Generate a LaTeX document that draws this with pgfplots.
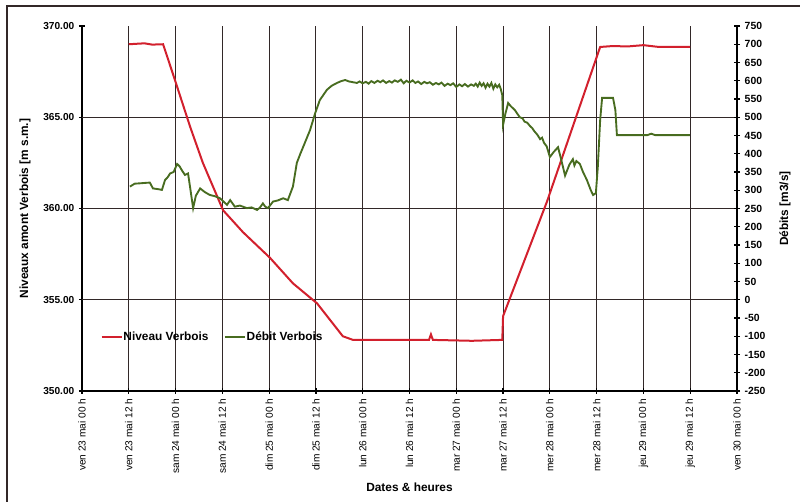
\documentclass[border=0pt]{standalone}
\usepackage{pgfplots}
\pgfplotsset{compat=1.18}
\usepackage{fontspec}
\setmainfont{Liberation Sans}
\definecolor{redl}{RGB}{210,32,45}
\definecolor{greenl}{RGB}{72,108,32}
\definecolor{gridc}{RGB}{50,40,40}

\pgfplotstableread{
h v
12.0 369.0
16.0 369.05
18.0 368.98
20.8 369.0
23.9 367.0
27.7 364.5
31.0 362.5
36.2 359.9
41.3 358.7
48.2 357.3
54.1 355.9
60.3 354.8
63.6 353.9
66.9 353.0
69.5 352.8
80.0 352.8
89.0 352.8
89.5 353.1
90.0 352.8
100.0 352.75
107.8 352.8
108.0 354.1
119.3 360.4
132.9 368.85
136.0 368.9
140.0 368.88
144.0 368.95
148.0 368.85
156.0 368.85
}\niveau

\pgfplotstableread{
h v
12.3 310
13.5 318
14.9 319
16.0 320
17.4 321
18.2 305
19.5 303
20.5 301
21.3 328
22.0 336
22.6 346
23.5 350
24.4 372
25.0 366
25.6 355
26.4 342
27.2 346
27.7 310
28.5 251
29.2 285
30.3 305
31.5 295
32.8 287
34.0 284
35.4 278
36.2 270
37.2 260
38.0 273
39.2 255
40.5 258
42.3 251
43.5 253
44.9 246
45.6 252
46.4 264
47.0 255
47.7 251
49.0 269
50.2 272
51.6 278
52.8 273
54.1 310
55.1 375
56.0 400
56.7 418
58.5 465
59.8 511
61.0 547
62.8 575
64.0 586
65.4 594
66.5 599
67.5 602
68.5 598
69.5 596
70.5 594
71.2 598
72.0 593
72.8 597
73.5 592
74.2 599
75.0 594
75.8 600
76.5 596
77.2 601
78.0 594
78.8 599
79.5 595
80.2 601
81.0 597
81.8 603
82.5 593
83.2 600
84.0 595
84.8 601
85.5 594
86.2 598
87.0 591
87.8 597
88.5 593
89.2 596
90.0 589
90.8 594
91.5 590
92.2 595
93.0 586
93.8 592
94.5 588
95.2 593
96.0 583
96.8 590
97.5 585
98.2 591
99.0 584
99.8 590
100.5 586
101.0 592
101.5 584
102.0 595
102.5 586
103.0 593
103.5 581
104.0 592
104.5 584
105.0 594
105.5 578
106.0 590
106.5 582
107.0 589
107.4 578
107.8 560
108.0 479
108.6 510
109.3 539
110.0 530
110.5 525
111.0 520
111.5 512
112.3 500
113.0 497
113.5 488
114.2 485
114.9 476
115.5 470
116.0 462
116.8 452
117.5 440
118.0 444
118.5 430
119.2 420
120.0 391
121.0 405
122.1 418
123.0 380
123.9 340
125.0 370
125.9 385
126.3 368
126.8 380
127.7 372
128.5 350
129.5 328
130.5 300
131.1 287
131.8 292
132.3 364
132.9 492
133.4 553
136.2 553
136.8 520
137.2 451
145.0 451
146.0 455
147.0 451
155.9 451
}\debit

\begin{document}
\begin{tikzpicture}
\useasboundingbox (0,0) rectangle (600pt,376.5pt);
\draw[line width=0.9pt, gridc] (5.25pt,0pt) -- (5.25pt,372pt) -- (600pt,372pt);

\begin{axis}[
  at={(61.5pt,83.25pt)}, anchor=south west,
  width=491.25pt, height=273.75pt, scale only axis,
  xmin=0, xmax=168, ymin=350, ymax=370,
  axis x line=bottom, axis y line=left,
  axis line style={-, line width=0.9pt, black},
  xtick={0,12,...,168},
  xticklabels={ven 23 mai 00 h, ven 23 mai 12 h, sam 24 mai 00 h, sam 24 mai 12 h, dim 25 mai 00 h, dim 25 mai 12 h, lun 26 mai 00 h, lun 26 mai 12 h, mar 27 mai 00 h, mar 27 mai 12 h, mer 28 mai 00 h, mer 28 mai 12 h, jeu 29 mai 00 h, jeu 29 mai 12 h, ven 30 mai 00 h},
  x tick label style={rotate=90, anchor=east, font=\fontsize{7.6}{9}\selectfont},
  ytick={350,355,...,370},
  yticklabel={\pgfmathprintnumber[fixed,fixed zerofill,precision=2]{\tick}},
  y tick label style={font=\bfseries\fontsize{7.6}{9}\selectfont},
  /pgf/number format/assume math mode=true,
  tick align=center, major tick length=4.5pt,
  tick style={line width=0.9pt, black},
  xmajorgrids, grid style={line width=0.85pt, gridc},
  extra y ticks={355,360,365}, extra y tick labels={},
  extra y tick style={grid=major, major tick length=0pt},
  ylabel={Niveaux amont Verbois [m s.m.]},
  every axis y label/.style={at={(rel axis cs:0,0.5)}, xshift=-42.75pt, rotate=90, anchor=center, font=\bfseries\fontsize{8.9}{10}\selectfont},
  xlabel={Dates \& heures},
  every axis x label/.style={at={(rel axis cs:0.5,0)}, yshift=-72pt, anchor=center, font=\bfseries\fontsize{8.9}{10}\selectfont},
]
\addplot[redl, line width=1.5pt] table[x=h,y=v] {\niveau};
\end{axis}

\begin{axis}[
  at={(61.5pt,83.25pt)}, anchor=south west,
  width=491.25pt, height=273.75pt, scale only axis,
  xmin=0, xmax=168, ymin=-250, ymax=750,
  axis x line=none, axis y line=right,
  axis line style={-, line width=0.9pt, black},
  ytick={-250,-200,...,750},
  y tick label style={font=\bfseries\fontsize{7.8}{9}\selectfont},
  /pgf/number format/assume math mode=true,
  tick align=center, major tick length=4.5pt,
  tick style={line width=0.9pt, black},
  ylabel={Débits [m3/s]},
  every axis y label/.style={at={(rel axis cs:1,0.5)}, xshift=36pt, rotate=90, anchor=center, font=\bfseries\fontsize{8.9}{10}\selectfont},
  legend style={at={(rel axis cs:0.022,0.148)}, anchor=west, draw=none, fill=none,
    font=\bfseries\fontsize{8.9}{10}\selectfont,
    nodes={inner sep=0.6pt},
    /tikz/every even column/.append style={column sep=11pt}},
  legend columns=2,
  legend image code/.code={\draw[#1] (0pt,0pt) -- (15pt,0pt);},
]
\addlegendimage{redl, line width=1.5pt}
\addlegendentry{Niveau Verbois}
\addplot[greenl, line width=1.4pt] table[x=h,y=v] {\debit};
\addlegendentry{Débit Verbois}
\end{axis}
\end{tikzpicture}
\end{document}
